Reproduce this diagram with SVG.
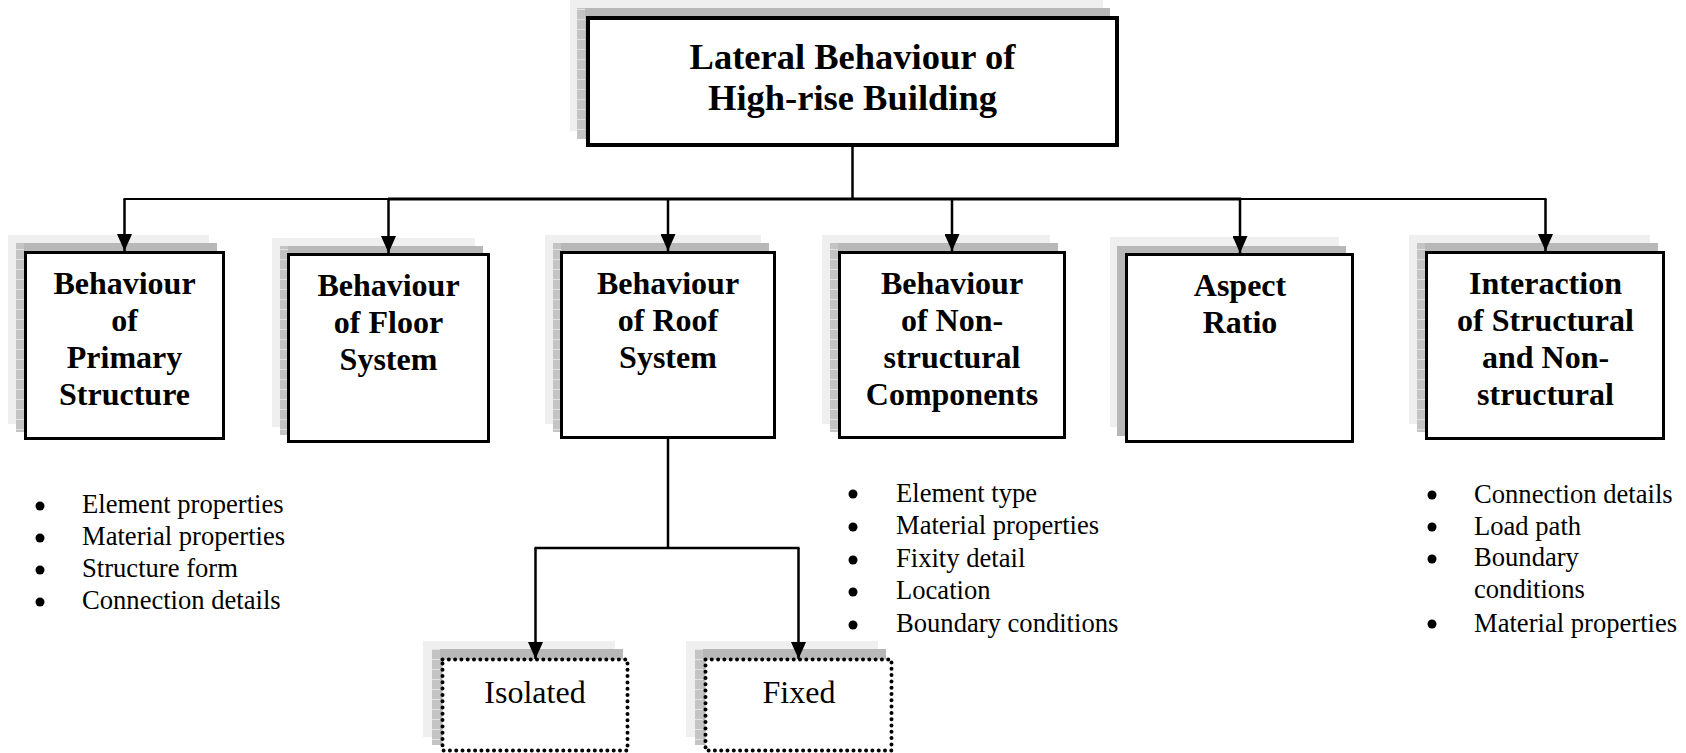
<svg xmlns="http://www.w3.org/2000/svg" width="1686" height="753" viewBox="0 0 1686 753">
<style>
  .light { fill: #efefef; }
  .dark { fill: #b8b8b8; }
  .strip { fill: url(#hatch); }
  .box { fill: #ffffff; stroke: #000000; stroke-width: 3; }
  .topbox { fill: #ffffff; stroke: #000000; stroke-width: 4; }
  .dotbox { fill: #ffffff; stroke: #000000; stroke-width: 4; stroke-dasharray: 0 6.3; stroke-linecap: round; }
  .hd { font-family: "Liberation Serif", "Times New Roman", serif; font-weight: bold; font-size: 32px; text-anchor: middle; fill: #000; }
  .ttl { font-family: "Liberation Serif", "Times New Roman", serif; font-weight: bold; font-size: 36.5px; text-anchor: middle; fill: #000; }
  .leaf { font-family: "Liberation Serif", "Times New Roman", serif; font-size: 32px; text-anchor: middle; fill: #000; }
  .li { font-family: "Liberation Serif", "Times New Roman", serif; font-size: 26.6px; fill: #000; }
  .conn { fill: none; stroke: #000; stroke-width: 2.5; }
  .thin { fill: none; stroke: #000; stroke-width: 2; }
  .thick { fill: none; stroke: #000; stroke-width: 3; }
</style>
<defs>
  <pattern id="hatch" patternUnits="userSpaceOnUse" width="8" height="10">
    <rect width="8" height="10" fill="#c4c4c4"/>
    <rect y="9" width="8" height="1" fill="#e2e2e2"/>
  </pattern>
  <marker id="arr" markerUnits="userSpaceOnUse" markerWidth="17" markerHeight="15" viewBox="0 0 17 15" refX="17" refY="7.5" orient="auto">
    <path d="M0,0 L17,7.5 L0,15 z" fill="#000"/>
  </marker>
</defs>

<g id="node-root">
  <rect class="light" x="570" y="0" width="533" height="131"/>
  <rect class="dark" x="577" y="8" width="533" height="131"/>
  <rect class="strip" x="577" y="8" width="8" height="131"/>
  <rect class="topbox" x="588" y="18" width="529" height="127"/>
  <text class="ttl" x="852.5" y="69">Lateral Behaviour of</text>
  <text class="ttl" x="852.5" y="110">High-rise Building</text>
</g>

<g id="node-primary">
  <rect class="light" x="8" y="235" width="201" height="189"/>
  <rect class="dark" x="16" y="243" width="201" height="189"/>
  <rect class="strip" x="16" y="243" width="8" height="189"/>
  <rect class="box" x="25.5" y="252.5" width="198" height="186"/>
  <text class="hd" x="124.5" y="294">Behaviour</text>
  <text class="hd" x="124.5" y="331">of</text>
  <text class="hd" x="124.5" y="368">Primary</text>
  <text class="hd" x="124.5" y="405">Structure</text>
</g>

<g id="node-floor">
  <rect class="light" x="272" y="238" width="203" height="189"/>
  <rect class="dark" x="280" y="246" width="203" height="189"/>
  <rect class="strip" x="280" y="246" width="8" height="189"/>
  <rect class="box" x="288.5" y="254.5" width="200" height="187"/>
  <text class="hd" x="388.5" y="296">Behaviour</text>
  <text class="hd" x="388.5" y="333">of Floor</text>
  <text class="hd" x="388.5" y="370">System</text>
</g>

<g id="node-roof">
  <rect class="light" x="545" y="235" width="216" height="189"/>
  <rect class="dark" x="553" y="243" width="216" height="189"/>
  <rect class="strip" x="553" y="243" width="8" height="189"/>
  <rect class="box" x="561.5" y="252.5" width="213" height="185"/>
  <text class="hd" x="668" y="294">Behaviour</text>
  <text class="hd" x="668" y="331">of Roof</text>
  <text class="hd" x="668" y="368">System</text>
</g>

<g id="node-nonstructural">
  <rect class="light" x="822" y="235" width="228" height="189"/>
  <rect class="dark" x="830" y="243" width="228" height="189"/>
  <rect class="strip" x="830" y="243" width="8" height="189"/>
  <rect class="box" x="839.5" y="252.5" width="225" height="185"/>
  <text class="hd" x="952" y="294">Behaviour</text>
  <text class="hd" x="952" y="331">of Non-</text>
  <text class="hd" x="952" y="368">structural</text>
  <text class="hd" x="952" y="405">Components</text>
</g>

<g id="node-aspect">
  <rect class="light" x="1110" y="237" width="229" height="190"/>
  <rect class="dark" x="1117" y="246" width="229" height="190"/>
  <rect class="box" x="1126.5" y="254.5" width="226" height="187"/>
  <text class="hd" x="1240" y="296">Aspect</text>
  <text class="hd" x="1240" y="333">Ratio</text>
</g>

<g id="node-interaction">
  <rect class="light" x="1409" y="235" width="241" height="189"/>
  <rect class="dark" x="1417" y="243" width="241" height="189"/>
  <rect class="strip" x="1417" y="243" width="8" height="189"/>
  <rect class="box" x="1426.5" y="252.5" width="237" height="186"/>
  <text class="hd" x="1545.5" y="294">Interaction</text>
  <text class="hd" x="1545.5" y="331">of Structural</text>
  <text class="hd" x="1545.5" y="368">and Non-</text>
  <text class="hd" x="1545.5" y="405">structural</text>
</g>

<g id="node-isolated">
  <rect class="light" x="423" y="641" width="192" height="96"/>
  <rect class="dark" x="432" y="649" width="191" height="96"/>
  <rect class="strip" x="432" y="649" width="8" height="96"/>
  <rect class="dotbox" x="442.5" y="659.5" width="185" height="91"/>
  <text class="leaf" x="535" y="703">Isolated</text>
</g>

<g id="node-fixed">
  <rect class="light" x="686" y="641" width="192" height="96"/>
  <rect class="dark" x="695" y="649" width="191" height="96"/>
  <rect class="strip" x="695" y="649" width="8" height="96"/>
  <rect class="dotbox" x="705.5" y="659.5" width="186" height="91"/>
  <text class="leaf" x="799" y="703">Fixed</text>
</g>

<g id="connectors">
  <line class="conn" x1="852.5" y1="147" x2="852.5" y2="199"/>
  <line class="thin" x1="123.5" y1="199" x2="389" y2="199"/>
  <line class="thick" x1="388" y1="199" x2="1241" y2="199"/>
  <line class="thin" x1="1240" y1="199" x2="1546.5" y2="199"/>
  <line class="conn" x1="124.5" y1="199" x2="124.5" y2="251" marker-end="url(#arr)"/>
  <line class="conn" x1="388.5" y1="199" x2="388.5" y2="253" marker-end="url(#arr)"/>
  <line class="conn" x1="668" y1="199" x2="668" y2="251" marker-end="url(#arr)"/>
  <line class="conn" x1="952" y1="199" x2="952" y2="251" marker-end="url(#arr)"/>
  <line class="conn" x1="1240" y1="199" x2="1240" y2="253" marker-end="url(#arr)"/>
  <line class="conn" x1="1545.5" y1="199" x2="1545.5" y2="251" marker-end="url(#arr)"/>
  <line class="conn" x1="668" y1="439" x2="668" y2="548"/>
  <line class="conn" x1="534.5" y1="548" x2="799.5" y2="548"/>
  <line class="conn" x1="535.5" y1="548" x2="535.5" y2="659" marker-end="url(#arr)"/>
  <line class="conn" x1="798.5" y1="548" x2="798.5" y2="659" marker-end="url(#arr)"/>
</g>

<g id="list-primary">
  <circle cx="40" cy="506" r="4.5"/>
  <circle cx="40" cy="538" r="4.5"/>
  <circle cx="40" cy="570" r="4.5"/>
  <circle cx="40" cy="602" r="4.5"/>
  <text class="li" x="82" y="513">Element properties</text>
  <text class="li" x="82" y="545">Material properties</text>
  <text class="li" x="82" y="577">Structure form</text>
  <text class="li" x="82" y="609">Connection details</text>
</g>

<g id="list-nonstructural">
  <circle cx="853" cy="494" r="4.5"/>
  <circle cx="853" cy="527" r="4.5"/>
  <circle cx="853" cy="560" r="4.5"/>
  <circle cx="853" cy="592" r="4.5"/>
  <circle cx="853" cy="625" r="4.5"/>
  <text class="li" x="896" y="502">Element type</text>
  <text class="li" x="896" y="534">Material properties</text>
  <text class="li" x="896" y="567">Fixity detail</text>
  <text class="li" x="896" y="599">Location</text>
  <text class="li" x="896" y="632">Boundary conditions</text>
</g>

<g id="list-interaction">
  <circle cx="1432" cy="495" r="4.5"/>
  <circle cx="1432" cy="527" r="4.5"/>
  <circle cx="1432" cy="559" r="4.5"/>
  <circle cx="1432" cy="624" r="4.5"/>
  <text class="li" x="1474" y="503">Connection details</text>
  <text class="li" x="1474" y="535">Load path</text>
  <text class="li" x="1474" y="566">Boundary</text>
  <text class="li" x="1474" y="598">conditions</text>
  <text class="li" x="1474" y="632">Material properties</text>
</g>
</svg>
